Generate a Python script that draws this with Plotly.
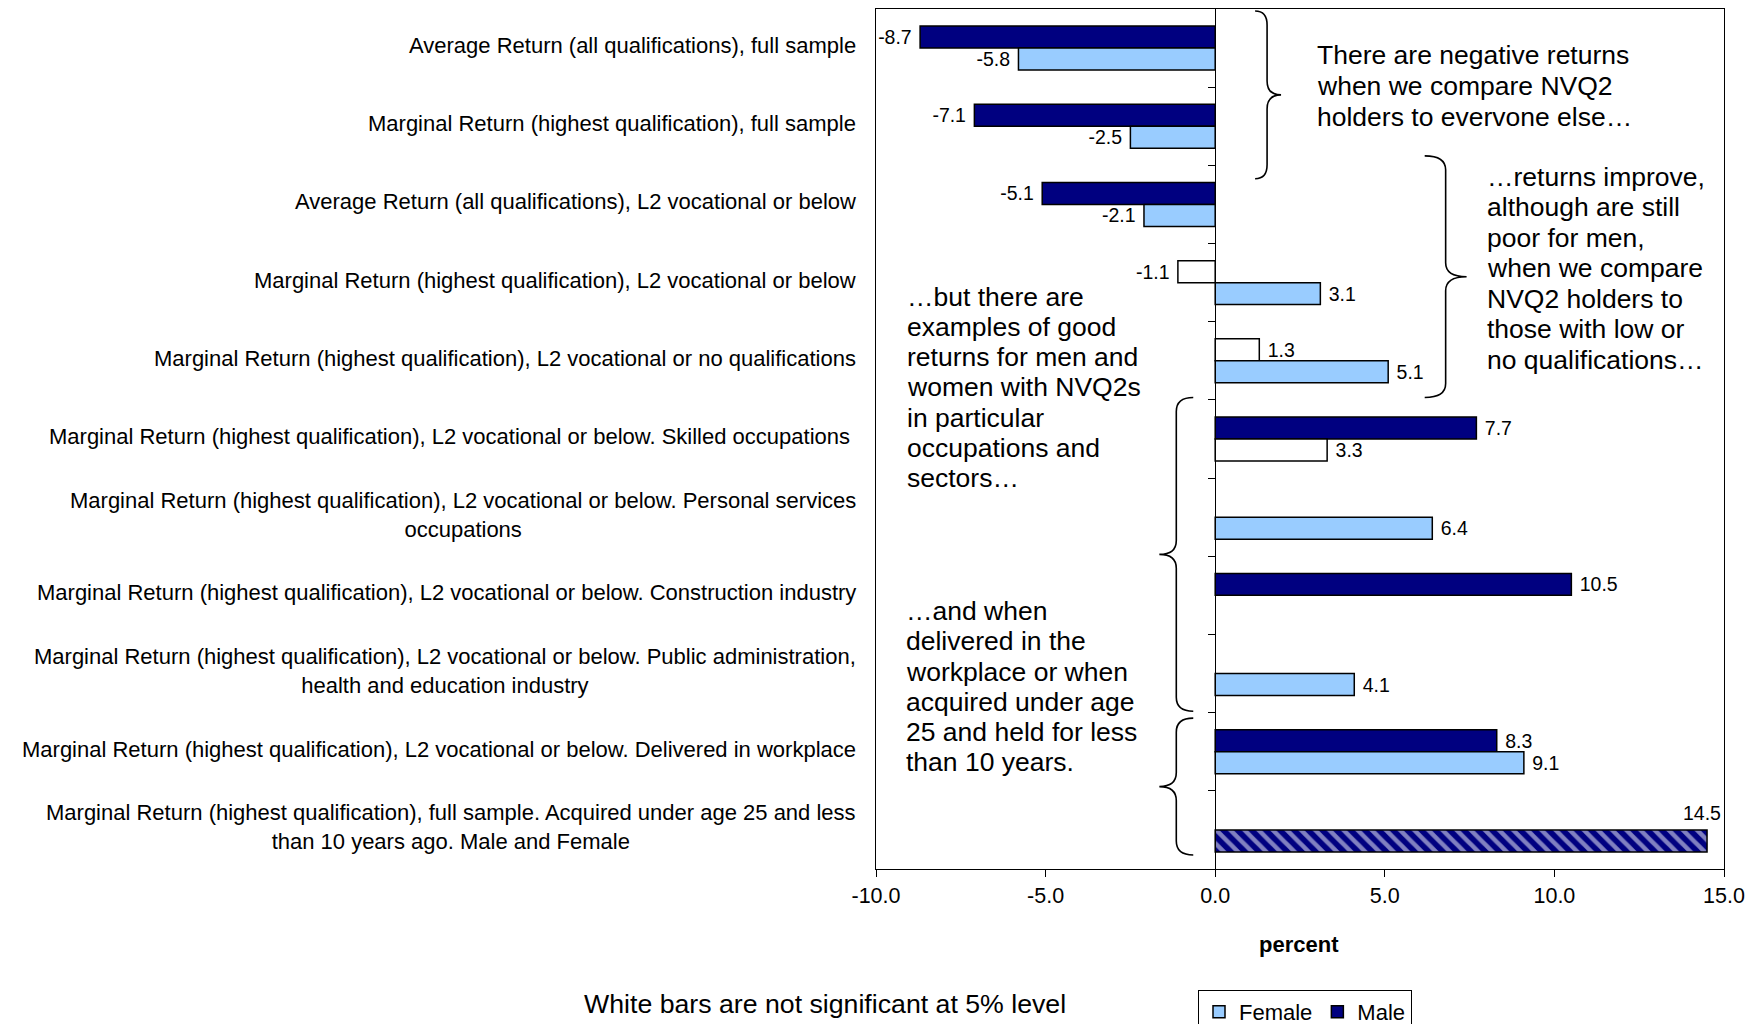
import plotly.graph_objects as go

# ---------------- data ----------------
categories = [
    "Average Return (all qualifications), full sample",
    "Marginal Return (highest qualification), full sample",
    "Average Return (all qualifications), L2 vocational or below",
    "Marginal Return (highest qualification), L2 vocational or below",
    "Marginal Return (highest qualification), L2 vocational or no qualifications",
    "Marginal Return (highest qualification), L2 vocational or below. Skilled occupations\u00a0",
    "Marginal Return (highest qualification), L2 vocational or below. Personal services<br>occupations",
    "Marginal Return (highest qualification), L2 vocational or below. Construction industry",
    "Marginal Return (highest qualification), L2 vocational or below. Public administration,<br>health and education industry",
    "Marginal Return (highest qualification), L2 vocational or below. Delivered in workplace",
    "Marginal Return (highest qualification), full sample. Acquired under age 25 and less<br>than 10 years ago. Male and Female",
]
male_values = [-8.7, -7.1, -5.1, -1.1, 1.3, 7.7, None, 10.5, None, 8.3, None]
female_values = [-5.8, -2.5, -2.1, 3.1, 5.1, 3.3, 6.4, None, 4.1, 9.1, 14.5]
male_significant = [True, True, True, False, False, True, True, True, True, True, True]
female_significant = [True, True, True, True, True, False, True, True, True, True, True]
combined_row = [False] * 10 + [True]   # last bar: Male and Female combined (hatched)

x_ticks = [-10, -5, 0, 5, 10, 15]

notes = [
    ["There are negative returns", "when we compare NVQ2", "holders to evervone else\u2026"],
    ["\u2026returns improve,", "although are still", "poor for men,", "when we compare",
     "NVQ2 holders to", "those with low or", "no qualifications\u2026"],
    ["\u2026but there are", "examples of good", "returns for men and", "women with NVQ2s",
     "in particular", "occupations and", "sectors\u2026"],
    ["\u2026and when", "delivered in the", "workplace or when", "acquired under age",
     "25 and held for less", "than 10 years."],
]

# ---------------- styles ----------------
NAVY = "#000080"
LIGHT = "#99CCFF"
WHITE = "#FFFFFF"
FONT = "Liberation Sans, Arial, sans-serif"

PAGE_OFF = 8                      # default body margin of the html page
W, H = 1753 - 2 * PAGE_OFF, 1032 - 2 * PAGE_OFF
PL, PR, PT, PB = 876, 1726, 8, 869   # plot area in page pixels


def px(x):
    return (x - PL) / (PR - PL)


def py(y):
    return (PB - y) / (PB - PT)


def fmt(v):
    return "" if v is None else f"{v:.1f}"


def label(v):
    if v is None:
        return ""
    return f"{v:.1f}\u00a0" if v < 0 else f"\u00a0{v:.1f}"


male_colors = [NAVY if s else WHITE for s in male_significant]
female_colors = [NAVY if c else (LIGHT if s else WHITE) for s, c in zip(female_significant, combined_row)]
female_shapes = ["\\" if c else "" for c in combined_row]
female_text = ["" if c else label(v) for v, c in zip(female_values, combined_row)]

VAL_FONT = dict(family=FONT, size=19.5, color="black")

fig = go.Figure()
fig.add_trace(go.Bar(
    name="Male", y=categories, x=male_values, orientation="h",
    marker=dict(color=male_colors, line=dict(color="black", width=1.5)),
    text=[label(v) for v in male_values], textposition="outside",
    textfont=VAL_FONT, cliponaxis=False, hoverinfo="skip",
))
fig.add_trace(go.Bar(
    name="Female", y=categories, x=female_values, orientation="h",
    marker=dict(color=female_colors, line=dict(color="black", width=1.5),
                pattern=dict(shape=female_shapes, fgcolor=LIGHT, size=10, solidity=0.45)),
    text=female_text, textposition="outside",
    textfont=VAL_FONT, cliponaxis=False, hoverinfo="skip",
))
# dummy trace to attach the zero-line axis with category separators
fig.add_trace(go.Scatter(x=[None], y=[None], yaxis="y2", showlegend=False, hoverinfo="skip"))

n = len(categories)
annotations = []
for c in categories:
    annotations.append(dict(
        x=px(858), xref="paper", y=c, yref="y", text=c, showarrow=False,
        xanchor="right", yanchor="middle", align="center", yshift=2.5,
        font=dict(family=FONT, size=22, color="black"),
    ))
for v, c, cat in zip(female_values, combined_row, categories):
    if c:
        annotations.append(dict(
            x=v, xref="x", y=cat, yref="y", text=fmt(v), showarrow=False,
            xanchor="right", yanchor="middle", xshift=16, yshift=17,
            font=VAL_FONT,
        ))

note_pos = [(1316, 54, 31), (1486, 176, 30.5), (905, 296, 30.3), (904, 611, 30.2)]
for lines, (lx, ly, sp) in zip(notes, note_pos):
    for i, line in enumerate(lines):
        annotations.append(dict(
            x=px(lx), xref="paper", y=py(ly + i * sp), yref="paper", text=line,
            showarrow=False, xanchor="left", yanchor="middle",
            font=dict(family=FONT, size=26.5, color="black"),
        ))

annotations.append(dict(
    x=px(581), xref="paper", y=py(1004), yref="paper",
    text="White bars are not significant at 5% level", showarrow=False,
    xanchor="left", yanchor="middle", font=dict(family=FONT, size=26.7, color="black"),
))
annotations.append(dict(
    x=px(1300), xref="paper", y=py(945), yref="paper", text="<b>percent</b>",
    showarrow=False, xanchor="center", yanchor="middle",
    font=dict(family=FONT, size=22, color="black"),
))


def brace(xv, ytop, ybot, w, c, d, r=14):
    ym = (ytop + ybot) / 2
    pts = [
        ("M", [(xv - d * c, ytop)]),
        ("Q", [(xv, ytop), (xv, ytop + r)]),
        ("L", [(xv, ym - r)]),
        ("Q", [(xv, ym), (xv + d * w, ym)]),
        ("Q", [(xv, ym), (xv, ym + r)]),
        ("L", [(xv, ybot - r)]),
        ("Q", [(xv, ybot), (xv - d * c, ybot)]),
    ]
    s = ""
    for cmd, ps in pts:
        s += cmd + " ".join(f"{px(a):.5f},{py(b):.5f}" for a, b in ps) + " "
    return dict(type="path", path=s.strip(), xref="paper", yref="paper",
                line=dict(color="black", width=1.6))


shapes = [
    brace(1268, 10, 178, 14, 12, +1),
    brace(1447, 155, 397, 21, 21, +1),
    brace(1177, 397, 711, 17, 17, -1),
    brace(1177, 718, 855, 17, 17, -1),
]

zero_frac = (0 - x_ticks[0]) / (x_ticks[-1] - x_ticks[0])

fig.update_layout(
    width=W, height=H, autosize=False,
    margin=dict(l=PL - PAGE_OFF, r=W + PAGE_OFF - PR, t=PT - PAGE_OFF + 0.001,
                b=H + PAGE_OFF - PB, pad=0),
    paper_bgcolor="white", plot_bgcolor="white",
    barmode="group", bargap=0.438, bargroupgap=0,
    font=dict(family=FONT, color="black"),
    xaxis=dict(
        range=[x_ticks[0], x_ticks[-1]], tickvals=x_ticks,
        ticktext=[f"{t:.1f}" for t in x_ticks],
        ticks="outside", ticklen=7, tickcolor="black", tickwidth=1.2,
        showline=True, linecolor="black", linewidth=1.3, mirror=True,
        showgrid=False, zeroline=False, ticklabeloverflow="allow",
        tickfont=dict(family=FONT, size=21.5, color="black"),
    ),
    yaxis=dict(
        type="category", categoryarray=categories, range=[n - 0.5, -0.5],
        showticklabels=False, ticks="", showgrid=False, zeroline=False,
        showline=True, linecolor="black", linewidth=1.3, mirror=True,
    ),
    yaxis2=dict(
        overlaying="y", anchor="free", position=zero_frac,
        side="left", range=[n - 0.5, -0.5], tickvals=[i + 0.5 for i in range(n - 1)],
        ticks="outside", ticklen=7, tickcolor="black", tickwidth=1.2,
        showticklabels=False, showgrid=False, zeroline=False,
        showline=True, linecolor="black", linewidth=1.2,
    ),
    showlegend=True,
    legend=dict(
        orientation="h", traceorder="reversed",
        xref="container", yref="container",
        x=(1198 - PAGE_OFF) / W, y=1 - (990 - PAGE_OFF) / H,
        xanchor="left", yanchor="top",
        bordercolor="black", borderwidth=1, bgcolor="white",
        font=dict(family=FONT, size=22, color="black"),
        itemwidth=30,
    ),
    annotations=annotations,
    shapes=shapes,
)

fig.write_html("out.html")
